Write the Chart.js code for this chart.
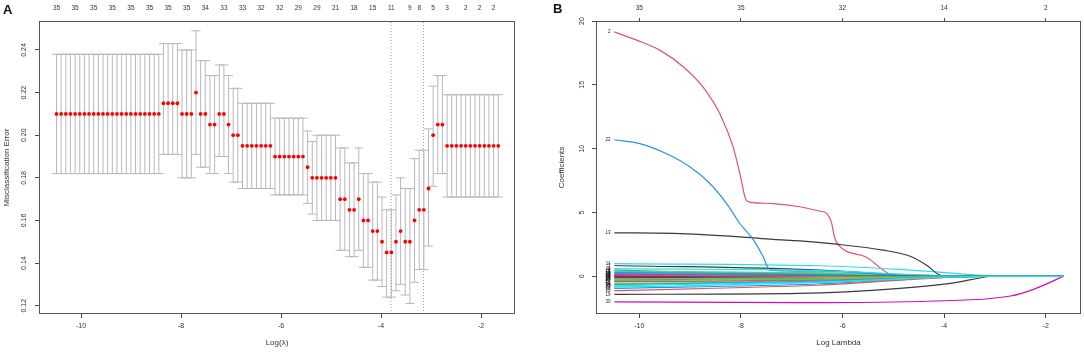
<!DOCTYPE html>
<html><head><meta charset="utf-8">
<script src="https://cdn.jsdelivr.net/npm/chart.js@4.4.0/dist/chart.umd.min.js"></script>
<style>
html,body{margin:0;padding:0;background:#fff;}
#wrap{position:relative;width:1084px;height:353px;overflow:hidden;background:#fff;}
#chartA{position:absolute;left:0;top:0;}
#chartB{position:absolute;left:540px;top:0;}
.lab{position:absolute;font:bold 13px "Liberation Sans",Arial,sans-serif;color:#111;}
</style></head><body>
<div id="wrap">
<canvas id="chartA" width="540" height="353"></canvas>
<canvas id="chartB" width="544" height="353"></canvas>
<div class="lab" style="left:3px;top:2px">A</div>
<div class="lab" style="left:553px;top:1px">B</div>
</div>
<script>
// ---------- Panel A data ----------
const logLambdaA = [
-10.490,-10.397,-10.304,-10.211,-10.118,-10.025,-9.932,-9.839,-9.746,-9.653,
-9.560,-9.467,-9.374,-9.281,-9.188,-9.095,-9.002,-8.909,-8.816,-8.723,
-8.630,-8.537,-8.444,-8.351,-8.258,-8.165,-8.072,-7.979,-7.886,-7.793,
-7.700,-7.607,-7.514,-7.421,-7.328,-7.235,-7.142,-7.049,-6.956,-6.863,
-6.770,-6.677,-6.584,-6.491,-6.398,-6.305,-6.212,-6.119,-6.026,-5.933,
-5.840,-5.747,-5.654,-5.561,-5.468,-5.375,-5.282,-5.189,-5.096,-5.003,
-4.910,-4.817,-4.724,-4.631,-4.538,-4.445,-4.352,-4.259,-4.166,-4.073,
-3.980,-3.887,-3.794,-3.701,-3.608,-3.515,-3.422,-3.329,-3.236,-3.143,
-3.050,-2.957,-2.864,-2.771,-2.678,-2.585,-2.492,-2.399,-2.306,-2.213,
-2.120,-2.027,-1.934,-1.841,-1.748,-1.655];
const cvMean = [
0.210,0.210,0.210,0.210,0.210,0.210,0.210,0.210,0.210,0.210,
0.210,0.210,0.210,0.210,0.210,0.210,0.210,0.210,0.210,0.210,
0.210,0.210,0.210,0.215,0.215,0.215,0.215,0.210,0.210,0.210,
0.220,0.210,0.210,0.205,0.205,0.210,0.210,0.205,0.200,0.200,
0.195,0.195,0.195,0.195,0.195,0.195,0.195,0.190,0.190,0.190,
0.190,0.190,0.190,0.190,0.185,0.180,0.180,0.180,0.180,0.180,
0.180,0.170,0.170,0.165,0.165,0.170,0.160,0.160,0.155,0.155,
0.150,0.145,0.145,0.150,0.155,0.150,0.150,0.160,0.165,0.165,
0.175,0.200,0.205,0.205,0.195,0.195,0.195,0.195,0.195,0.195,
0.195,0.195,0.195,0.195,0.195,0.195];
const cvUpper = [
0.238,0.238,0.238,0.238,0.238,0.238,0.238,0.238,0.238,0.238,
0.238,0.238,0.238,0.238,0.238,0.238,0.238,0.238,0.238,0.238,
0.238,0.238,0.238,0.243,0.243,0.243,0.243,0.240,0.240,0.240,
0.249,0.235,0.235,0.228,0.228,0.233,0.233,0.228,0.222,0.222,
0.215,0.215,0.215,0.215,0.215,0.215,0.215,0.208,0.208,0.208,
0.208,0.208,0.208,0.208,0.202,0.197,0.200,0.200,0.200,0.200,
0.200,0.194,0.194,0.187,0.187,0.194,0.182,0.182,0.178,0.178,
0.171,0.165,0.165,0.172,0.180,0.175,0.175,0.189,0.193,0.193,
0.203,0.223,0.228,0.228,0.219,0.219,0.219,0.219,0.219,0.219,
0.219,0.219,0.219,0.219,0.219,0.219];
const cvLower = [
0.182,0.182,0.182,0.182,0.182,0.182,0.182,0.182,0.182,0.182,
0.182,0.182,0.182,0.182,0.182,0.182,0.182,0.182,0.182,0.182,
0.182,0.182,0.182,0.191,0.191,0.191,0.191,0.180,0.180,0.180,
0.191,0.185,0.185,0.182,0.182,0.190,0.190,0.182,0.178,0.178,
0.175,0.175,0.175,0.175,0.175,0.175,0.175,0.172,0.172,0.172,
0.172,0.172,0.172,0.172,0.168,0.163,0.160,0.160,0.160,0.160,
0.160,0.146,0.146,0.143,0.143,0.146,0.138,0.138,0.132,0.132,
0.129,0.124,0.124,0.127,0.130,0.125,0.121,0.131,0.137,0.137,
0.148,0.176,0.182,0.182,0.171,0.171,0.171,0.171,0.171,0.171,
0.171,0.171,0.171,0.171,0.171,0.171];
const lambdaMinLog = -3.80;
const lambda1seLog = -3.15;
const xTicksA = [-10, -8, -6, -4, -2];
const yTicksA = [0.12, 0.14, 0.16, 0.18, 0.20, 0.22, 0.24];
const topAPos = [-10.490,-10.118,-9.746,-9.374,-9.002,-8.630,-8.258,-7.886,-7.514,-7.142,
  -6.770,-6.398,-6.026,-5.654,-5.282,-4.910,-4.538,-4.166,-3.794,-3.422,
  -3.236,-2.957,-2.678,-2.306,-2.027,-1.748];
const topALabels = ['35','35','35','35','35','35','35','35','34','33','33','32','32','29','29',
  '21','18','15','11','9','8','5','3','2','2','2'];
const xLimA = [-10.84, -1.32];
const yLimA = [0.1161, 0.2536];

// ---------- Panel B data ----------
const xTicksB = [-10, -8, -6, -4, -2];
const topBLabels = ['35', '35', '32', '14', '2'];
const yTicksB = [0, 5, 10, 15, 20];
const xLimB = [-10.852, -1.305];
const yLimB = [-2.95, 20.0];
const firstLogLambda = -10.49;
const lastLogLambda = -1.655;
const coef2 = [[-10.49,19.15],[-10.05,18.5],[-9.59,17.7],[-9.13,16.4],[-8.74,14.8],[-8.41,12.7],
  [-8.15,10.1],[-8.02,8.05],[-7.90,6.0],[-7.81,5.8],[-7.36,5.7],[-6.84,5.45],[-6.44,5.1],
  [-6.32,4.95],[-6.22,4.27],[-6.16,3.1],[-6.09,2.5],[-5.53,1.5],[-5.0,0.12],[-3.19,0],[-1.655,0]];
const coef22 = [[-10.49,10.7],[-9.99,10.4],[-9.46,9.6],[-9.0,8.56],[-8.61,7.27],[-8.28,5.7],
  [-8.02,4.14],[-7.75,2.84],[-7.56,1.53],[-7.43,0.49],[-6.44,0.4],[-5.0,0.12],[-3.19,0],[-1.655,0]];
const coef13 = [[-10.49,3.41],[-9.33,3.36],[-8.02,3.09],[-7.36,2.89],[-6.84,2.78],[-6.12,2.52],
  [-5.2,2.05],[-4.68,1.59],[-4.35,0.88],[-4.09,0.1],[-4.0,0],[-1.655,0]];
const coef30 = [[-10.49,-2.0],[-6.84,-2.06],[-4.21,-1.93],[-2.69,-1.54],[-2.24,-1.02],[-1.655,0]];
const coef19 = [[-10.49,-1.41],[-6.84,-1.33],[-4.87,-0.94],[-3.88,-0.55],[-3.19,-0.05],[-3.1,0],[-1.655,0]];
const coef11 = [[-10.49,1.0],[-6.44,0.83],[-4.87,0.55],[-2.64,0],[-1.655,0]];
const coef7 = [[-10.49,0.85],[-6.44,0.49],[-4.87,0.1],[-4.5,0],[-1.655,0]];
const smallIds   = [1,3,4,5,6,8,9,10,12,14,15,16,17,18,20,21,23,24,25,26,27,28,29,31,32,33,34,35];
const smallStart = [0.05,0.23,0.49,0.36,0.10,-0.03,-0.76,-0.94,0.15,-0.16,-0.55,0.30,-0.42,-0.10,
  -1.12,0.40,-0.85,0.02,-0.29,-0.42,-0.30,0.20,0.60,-0.05,0.12,-0.20,-0.65,-0.70];
const smallMid   = [0.02,0.15,0.10,0.30,0.05,-0.05,-0.25,-0.60,0.10,-0.20,-0.40,0.20,-0.30,-0.10,
  -0.70,0.25,-0.50,0.05,-0.15,-0.30,-0.20,0.10,0.45,-0.05,0.00,-0.10,-0.40,-0.45];
const smallZero  = [-5.0,-3.5,-3.2,-3.19,-3.19,-4.0,-3.19,-3.19,-4.2,-3.6,-3.4,-3.19,-3.19,-4.8,
  -3.19,-3.8,-3.19,-3.19,-5.5,-3.5,-3.19,-3.9,-3.3,-6.0,-4.5,-3.19,-3.19,-3.19];
const midLogLambda = -6.5;
const palette = ['#3a3a3a', '#DF536B', '#61D04F', '#2297E6', '#28E2E5', '#CD0BBC'];

// ---------- common ----------
const FONT = '"Liberation Sans", Arial, Helvetica, sans-serif';
const AXIS_COL = '#4a4a4a';
const TXT_COL = '#333';
Chart.defaults.font.family = FONT;
Chart.defaults.color = TXT_COL;

const boxPlugin = {
  id: 'box',
  afterDraw(chart) {
    const {ctx, chartArea: a} = chart;
    ctx.save();
    ctx.strokeStyle = '#555';
    ctx.lineWidth = 1;
    ctx.strokeRect(Math.round(a.left) + 0.5, Math.round(a.top) + 0.5,
      Math.round(a.right - a.left) - 1, Math.round(a.bottom - a.top) - 1);
    ctx.restore();
  }
};
function setTicks(arr) { return s => { s.ticks = arr.map(v => ({value: v})); }; }

// ---------- Panel A ----------
const barSegs = [];
logLambdaA.forEach((x, i) => {
  barSegs.push({x, y: cvLower[i]}, {x, y: cvUpper[i]}, {x, y: null});
});
new Chart(document.getElementById('chartA'), {
  type: 'scatter',
  data: {
    datasets: [
      {data: logLambdaA.map((x, i) => ({x, y: cvMean[i]})), pointRadius: 1.9,
       pointBackgroundColor: '#ff0000', pointBorderWidth: 0, showLine: false},
      {data: logLambdaA.map((x, i) => ({x, y: cvUpper[i]})), pointStyle: 'line', pointRadius: 4.6,
       pointBorderColor: '#b8b8b8', pointBorderWidth: 1, showLine: false},
      {data: logLambdaA.map((x, i) => ({x, y: cvLower[i]})), pointStyle: 'line', pointRadius: 4.6,
       pointBorderColor: '#b8b8b8', pointBorderWidth: 1, showLine: false},
      {data: barSegs, showLine: true, spanGaps: false, borderColor: '#b8b8b8', borderWidth: 1, pointRadius: 0},
      {data: [{x: lambdaMinLog, y: yLimA[0]}, {x: lambdaMinLog, y: yLimA[1]}], showLine: true,
       borderColor: '#9a9a9a', borderWidth: 1, borderDash: [1, 2], pointRadius: 0},
      {data: [{x: lambda1seLog, y: yLimA[0]}, {x: lambda1seLog, y: yLimA[1]}], showLine: true,
       borderColor: '#9a9a9a', borderWidth: 1, borderDash: [1, 2], pointRadius: 0}
    ]
  },
  options: {
    responsive: false, animation: false, devicePixelRatio: 1,
    layout: {padding: {left: 0, right: 25, top: 0, bottom: 0}},
    plugins: {legend: {display: false}, tooltip: {enabled: false}},
    scales: {
      x: {
        type: 'linear', position: 'bottom', min: xLimA[0], max: xLimA[1],
        afterBuildTicks: setTicks(xTicksA), afterFit: s => { s.height = 39; },
        grid: {display: true, drawOnChartArea: false, drawTicks: true, tickLength: 4, color: AXIS_COL},
        border: {display: false},
        ticks: {font: {size: 7}, color: TXT_COL, padding: 4, maxRotation: 0, autoSkip: false,
                callback: v => String(v)},
        title: {display: true, text: 'Log(λ)', font: {size: 8}, color: TXT_COL, padding: {top: 0, bottom: 5}}
      },
      xTop: {
        type: 'linear', position: 'top', min: xLimA[0], max: xLimA[1],
        afterBuildTicks: setTicks(topAPos), afterFit: s => { s.height = 21; },
        grid: {display: false, drawTicks: false},
        border: {display: false},
        ticks: {font: {size: 6.5}, color: TXT_COL, padding: 9, maxRotation: 0, autoSkip: false,
                callback: (v, i) => topALabels[i]}
      },
      y: {
        type: 'linear', position: 'left', min: yLimA[0], max: yLimA[1],
        afterBuildTicks: setTicks(yTicksA), afterFit: s => { s.width = 39; },
        grid: {display: true, drawOnChartArea: false, drawTicks: true, tickLength: 4, color: AXIS_COL},
        border: {display: false},
        ticks: {font: {size: 7}, color: TXT_COL, padding: 4, minRotation: 90, maxRotation: 90,
                crossAlign: 'center', autoSkip: false, callback: v => v.toFixed(2)},
        title: {display: true, text: 'Misclassification Error', font: {size: 8}, color: TXT_COL,
                padding: {top: 1.6, bottom: 0}}
      }
    }
  },
  plugins: [boxPlugin]
});

// ---------- Panel B ----------
const vars = [
  {id: 2, pts: coef2}, {id: 22, pts: coef22}, {id: 13, pts: coef13}, {id: 30, pts: coef30},
  {id: 19, pts: coef19}, {id: 11, pts: coef11}, {id: 7, pts: coef7}
];
smallIds.forEach((id, i) => {
  vars.push({id, pts: [[firstLogLambda, smallStart[i]], [midLogLambda, smallMid[i]],
                       [smallZero[i], 0], [lastLogLambda, 0]]});
});
vars.sort((a, b) => b.id - a.id);
const varLabelPlugin = {
  id: 'varLabels',
  afterDatasetsDraw(chart) {
    const {ctx, scales: {x, y}} = chart;
    ctx.save();
    ctx.font = '4.5px ' + FONT;
    ctx.fillStyle = '#222';
    ctx.textAlign = 'right';
    ctx.textBaseline = 'middle';
    vars.forEach(v => {
      ctx.fillText(String(v.id), x.getPixelForValue(v.pts[0][0]) - 4, y.getPixelForValue(v.pts[0][1]));
    });
    ctx.restore();
  }
};
new Chart(document.getElementById('chartB'), {
  type: 'scatter',
  data: {
    datasets: vars.map(v => ({
      data: v.pts.map(p => ({x: p[0], y: p[1]})),
      showLine: true, borderColor: palette[(v.id - 1) % 6], borderWidth: 1.2,
      pointRadius: 0, cubicInterpolationMode: 'monotone', fill: false
    }))
  },
  options: {
    responsive: false, animation: false, devicePixelRatio: 1,
    layout: {padding: {left: 0, right: 3, top: 0, bottom: 0}},
    plugins: {legend: {display: false}, tooltip: {enabled: false}},
    scales: {
      x: {
        type: 'linear', position: 'bottom', min: xLimB[0], max: xLimB[1],
        afterBuildTicks: setTicks(xTicksB), afterFit: s => { s.height = 39; },
        grid: {display: true, drawOnChartArea: false, drawTicks: true, tickLength: 4, color: AXIS_COL},
        border: {display: false},
        ticks: {font: {size: 7}, color: TXT_COL, padding: 4, maxRotation: 0, autoSkip: false,
                callback: v => String(v)},
        title: {display: true, text: 'Log Lambda', font: {size: 8}, color: TXT_COL, padding: {top: 0, bottom: 5}}
      },
      xTop: {
        type: 'linear', position: 'top', min: xLimB[0], max: xLimB[1],
        afterBuildTicks: setTicks(xTicksB), afterFit: s => { s.height = 21; },
        grid: {display: true, drawOnChartArea: false, drawTicks: true, tickLength: 3, color: AXIS_COL},
        border: {display: false},
        ticks: {font: {size: 6.5}, color: TXT_COL, padding: 6, maxRotation: 0, autoSkip: false,
                callback: (v, i) => topBLabels[i]}
      },
      y: {
        type: 'linear', position: 'left', min: yLimB[0], max: yLimB[1],
        afterBuildTicks: setTicks(yTicksB), afterFit: s => { s.width = 56; },
        grid: {display: true, drawOnChartArea: false, drawTicks: true, tickLength: 4, color: AXIS_COL},
        border: {display: false},
        ticks: {font: {size: 7}, color: TXT_COL, padding: 6, minRotation: 90, maxRotation: 90,
                crossAlign: 'center', autoSkip: false, callback: v => String(v)},
        title: {display: true, text: 'Coefficients', font: {size: 8}, color: TXT_COL,
                padding: {top: 17, bottom: 0}}
      }
    }
  },
  plugins: [boxPlugin, varLabelPlugin]
});
</script>
</body></html>
